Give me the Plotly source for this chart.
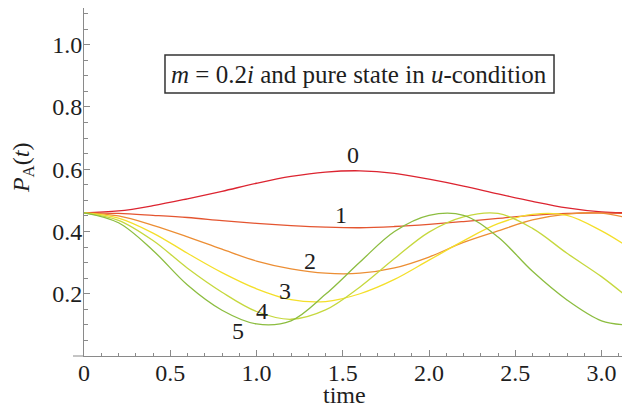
import math
import plotly.graph_objects as go

# ---- data ----
t = [0.0, 0.2, 0.4, 0.6, 0.8, 1.0, 1.2, 1.4, 1.6, 1.8, 2.0, 2.2, 2.4, 2.6, 2.8, 3.0, math.pi]

p0 = [0.460, 0.466, 0.483, 0.505, 0.529, 0.555, 0.577, 0.591, 0.595, 0.587, 0.568, 0.546, 0.521, 0.497, 0.476, 0.463, 0.460]
p1 = [0.460, 0.458, 0.452, 0.445, 0.435, 0.426, 0.419, 0.414, 0.412, 0.416, 0.423, 0.432, 0.442, 0.452, 0.458, 0.460, 0.458]
p2 = [0.460, 0.450, 0.420, 0.383, 0.343, 0.305, 0.280, 0.266, 0.266, 0.283, 0.318, 0.365, 0.402, 0.437, 0.456, 0.459, 0.445]
p3 = [0.460, 0.443, 0.395, 0.330, 0.268, 0.216, 0.181, 0.175, 0.200, 0.246, 0.308, 0.370, 0.425, 0.455, 0.452, 0.402, 0.355]
p4 = [0.460, 0.436, 0.371, 0.282, 0.205, 0.143, 0.118, 0.148, 0.222, 0.313, 0.398, 0.447, 0.458, 0.410, 0.330, 0.255, 0.193]
p5 = [0.460, 0.428, 0.339, 0.228, 0.147, 0.103, 0.113, 0.198, 0.302, 0.400, 0.452, 0.452, 0.382, 0.272, 0.180, 0.113, 0.100]

series = [p0, p1, p2, p3, p4, p5]
series_names = ["0", "1", "2", "3", "4", "5"]

x_tickvals = [0, 0.5, 1.0, 1.5, 2.0, 2.5, 3.0]
x_ticktext = ["0", "0.5", "1.0", "1.5", "2.0", "2.5", "3.0"]
y_tickvals = [0.2, 0.4, 0.6, 0.8, 1.0]
y_ticktext = ["0.2", "0.4", "0.6", "0.8", "1.0"]

# curve label positions (t, P)
label_t = [1.559, 1.488, 1.308, 1.163, 1.033, 0.893]
label_p = [0.646, 0.453, 0.305, 0.208, 0.145, 0.081]

colors = ["#DC2430", "#E45530", "#EC8E34", "#F4DF2A", "#C6D83E", "#8CBD40"]

FONT = "Liberation Serif"
AXIS = "#8a8a8a"
TXT = "#1e1e1e"
FS = 24

fig = go.Figure()
for s, name, c in zip(series, series_names, colors):
    fig.add_trace(go.Scatter(x=t, y=s, mode="lines", name=name,
                             line=dict(color=c, width=1.3, shape="spline", smoothing=1.0),
                             showlegend=False, hoverinfo="skip"))

for name, lt, lp in zip(series_names, label_t, label_p):
    fig.add_annotation(x=lt, y=lp, xref="x", yref="y", text=name, showarrow=False,
                       xanchor="center", yanchor="middle",
                       font=dict(family=FONT, size=FS, color=TXT))

# boxed title
fig.add_shape(type="rect", xref="paper", yref="paper",
              x0=0.1462, x1=0.8484, y0=0.7557, y1=0.8649,
              line=dict(color="#333333", width=1.5), fillcolor="white", layer="below")
fig.add_annotation(xref="paper", yref="paper", x=0.4964, y=0.8103,
                   xanchor="center", yanchor="middle",
                   text="<i>m</i> = 0.2<i>i</i> and pure state in <i>u</i>-condition",
                   showarrow=False, font=dict(family=FONT, size=25, color=TXT))

# axis titles
fig.add_annotation(xref="x", yref="paper", x=1.51, y=0, yshift=-39,
                   xanchor="center", yanchor="middle",
                   text="time", showarrow=False, font=dict(family=FONT, size=FS, color=TXT))
fig.add_annotation(xref="paper", yref="paper", x=0, xshift=-61, y=0.54,
                   xanchor="center", yanchor="middle",
                   text="<i>P</i><sub>A</sub>(<i>t</i>)", textangle=-90, showarrow=False,
                   font=dict(family=FONT, size=FS, color=TXT))

# x-axis line extension left of the y axis
fig.add_shape(type="line", xref="paper", yref="paper", x0=-11/554, x1=0, y0=0, y1=0,
              line=dict(color=AXIS, width=1))

fig.update_xaxes(range=[0, 3.2116], showgrid=False, zeroline=False, showline=True,
                 automargin=False, ticklabelstandoff=-5,
                 linecolor=AXIS, linewidth=1, ticks="inside", ticklen=6, tickcolor=AXIS,
                 tickvals=x_tickvals, ticktext=x_ticktext,
                 tickfont=dict(family=FONT, size=FS, color=TXT),
                 minor=dict(dtick=0.1, tick0=0, ticks="inside", ticklen=3.5, tickcolor=AXIS))
fig.update_yaxes(range=[0, 1.118], showgrid=False, zeroline=False, showline=True,
                 automargin=False, ticklabelstandoff=-4,
                 linecolor=AXIS, linewidth=1, ticks="inside", ticklen=6, tickcolor=AXIS,
                 tickvals=y_tickvals, ticktext=y_ticktext,
                 tickfont=dict(family=FONT, size=FS, color=TXT),
                 minor=dict(dtick=0.05, tick0=0, ticks="inside", ticklen=3.5, tickcolor=AXIS))

fig.update_layout(width=630, height=405, margin=dict(l=76, r=0, t=0, b=57),
                  plot_bgcolor="white", paper_bgcolor="white")

fig.write_html("out.html")
